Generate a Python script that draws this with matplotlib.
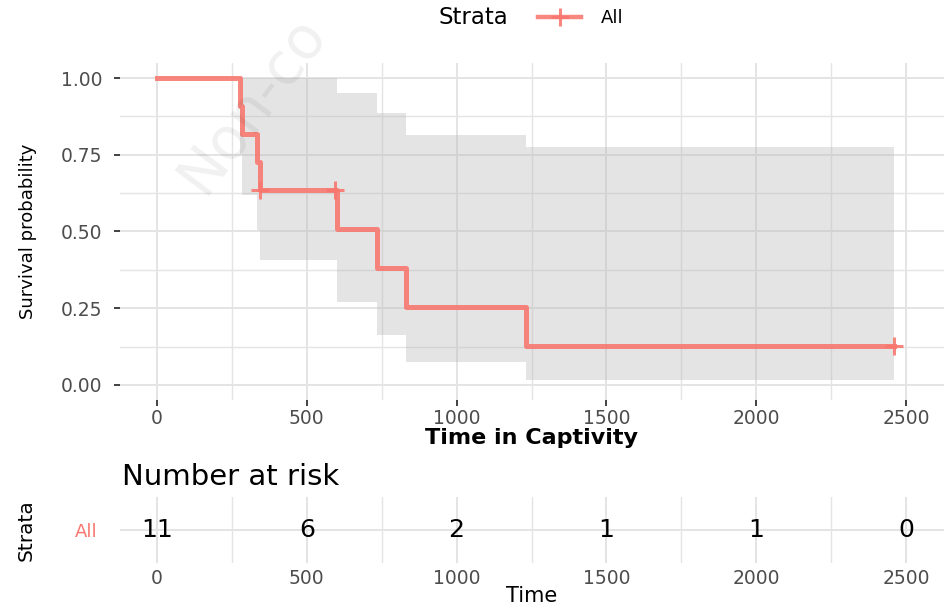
import matplotlib
matplotlib.use("Agg")
import matplotlib.pyplot as plt
from matplotlib.lines import Line2D

plt.rcParams["font.family"] = ["DejaVu Sans"]

# --- Kaplan-Meier curve ---
step_times = [0, 277, 285, 334, 344, 600, 734, 831, 1232, 2460]
surv       = [1.0, 0.909, 0.818, 0.727, 0.636, 0.509, 0.382, 0.254, 0.127, 0.127]
upper      = [1.0, 1.0, 1.0, 1.0, 1.0, 0.951, 0.886, 0.814, 0.775, 0.775]
lower      = [1.0, 0.754, 0.619, 0.505, 0.407, 0.270, 0.163, 0.075, 0.016, 0.016]
censor_times = [344, 594, 2460]
censor_surv  = [0.636, 0.636, 0.127]

# --- Number at risk table ---
risk_times = [0, 500, 1000, 1500, 2000, 2500]
n_risk     = [11, 6, 2, 1, 1, 0]

x_major = [0, 500, 1000, 1500, 2000, 2500]
x_minor = [250, 750, 1250, 1750, 2250]
y_major = [0.0, 0.25, 0.50, 0.75, 1.00]
y_minor = [0.125, 0.375, 0.625, 0.875]

red = "#F8766D"
tick_col = "#4D4D4D"
grid_col = "#E4E4E4"
xlim = (-123.5, 2630)

fig = plt.figure(figsize=(9.45, 6.05), dpi=100)
ax = fig.add_axes([120/945, 1 - 400/605, 825/945, 337/605])
axr = fig.add_axes([120/945, 1 - 563/605, 825/945, 66/605])

# ---- main survival panel ----
for v in x_major + x_minor:
    ax.axvline(v, color=grid_col, lw=1.4 if v in x_major else 1.0, zorder=0)
for v in y_major + y_minor:
    ax.axhline(v, color=grid_col, lw=1.4 if v in y_major else 1.0, zorder=0)

ax.fill_between(step_times[1:], lower[1:], upper[1:], step="post",
                color="#B8B8B8", alpha=0.38, lw=0, zorder=1)
ax.step(step_times, surv, where="post", color=red, lw=3.6, alpha=0.88, zorder=3)
ax.plot(censor_times, censor_surv, ls="none", marker="+", ms=13, mew=2.2,
        color=red, alpha=0.88, zorder=4)

ax.set_xlim(*xlim)
ax.set_ylim(-0.049, 1.049)
ax.set_xticks(x_major)
ax.set_yticks(y_major)
ax.set_yticklabels([f"{v:.2f}" for v in y_major])
ax.tick_params(axis="both", length=4.5, width=1.3, color="#333333",
               labelsize=13.5, labelcolor=tick_col)
ax.tick_params(axis="x", pad=2)
ax.tick_params(axis="y", pad=8)
for s in ax.spines.values():
    s.set_visible(False)
ax.set_xlabel("Time in Captivity", fontsize=16, fontweight="bold")
ax.xaxis.set_label_coords((532 - 120) / 825, -(428 - 400) / 337)
ax.set_ylabel("Survival probability", fontsize=13)
ax.yaxis.set_label_coords(-(120 - 37) / 825, 0.5)

# legend at top
fig.text(473/945, 1 - 17/605, "Strata", fontsize=16.5, ha="center", va="center")
handle = Line2D([], [], color=red, lw=3.2, marker="+", ms=13, mew=2.2, alpha=0.88)
fig.legend([handle], ["All"], loc="center left", bbox_to_anchor=(538/945, 1 - 18/605),
           frameon=False, fontsize=13, handlelength=2.4, handletextpad=1.1,
           borderpad=0, borderaxespad=0)

# watermark
fig.text(203/945, 1 - 196/605, "Non-co", fontsize=42, rotation=53,
         color="#000000", alpha=0.06, ha="left", va="baseline", rotation_mode="anchor")

# ---- risk table ----
for v in x_major + x_minor:
    axr.axvline(v, color=grid_col, lw=1.4 if v in x_major else 1.0, zorder=0)
axr.axhline(0, color=grid_col, lw=1.4, zorder=0)
for t, n in zip(risk_times, n_risk):
    axr.text(t, 0, str(n), ha="center", va="center", fontsize=18, color="black")
axr.set_xlim(*xlim)
axr.set_ylim(-0.5, 0.5)
axr.set_xticks(x_major)
axr.set_yticks([0])
axr.set_yticklabels(["All"])
axr.tick_params(axis="both", length=0, labelsize=13.5, labelcolor=tick_col)
axr.tick_params(axis="x", pad=4)
axr.tick_params(axis="y", pad=16)
axr.get_yticklabels()[0].set_color(red)
axr.get_yticklabels()[0].set_fontsize(13)
for s in axr.spines.values():
    s.set_visible(False)
axr.set_xlabel("Time", fontsize=15)
axr.xaxis.set_label_coords((532 - 120) / 825, -(586 - 563) / 66)
axr.set_ylabel("Strata", fontsize=14.5)
axr.yaxis.set_label_coords(-(120 - 36) / 825, 0.5)

fig.text(122/945, 1 - 477/605, "Number at risk", fontsize=21, ha="left", va="center")

fig.savefig("out.png", dpi=100)
